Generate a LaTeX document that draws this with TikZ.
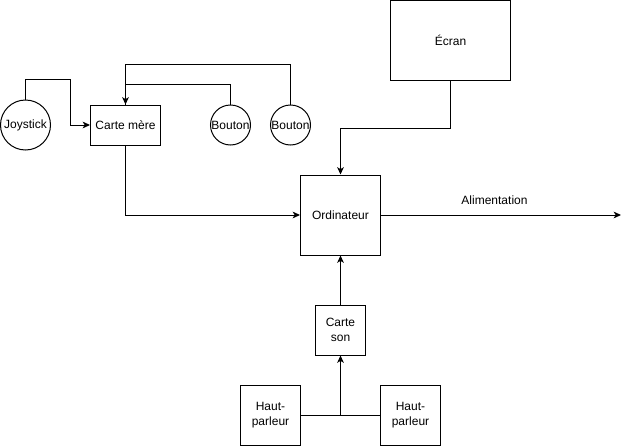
\documentclass[tikz,border=0pt]{standalone}
\usepackage{fontspec}
\setmainfont{Liberation Sans}
\usetikzlibrary{arrows.meta}
\begin{document}
\begin{tikzpicture}[x=0.75pt,y=-0.75pt,
  every node/.style={font=\fontsize{9pt}{11pt}\selectfont, inner sep=0pt, align=center},
  box/.style={draw, line width=0.75pt, rectangle},
  round/.style={draw, line width=0.75pt, circle},
  wire/.style={line width=0.75pt},
  arr/.style={wire, -{Stealth[length=5.5pt,width=5pt,inset=1.5pt]}}]
\useasboundingbox (0,0) rectangle (629,446);

% components
\node[round, minimum size=37.5pt] (joy) at (25.5,125) {Joystick};
\node[box, minimum width=52.5pt, minimum height=30pt] (cm) at (125.5,125) {Carte mère};
\node[round, minimum size=30pt] (b1) at (230.5,125) {Bouton};
\node[round, minimum size=30pt] (b2) at (290.5,125) {Bouton};
\node[box, minimum width=90pt, minimum height=60pt] (ecran) at (450.5,40.5) {Écran};
\node[box, minimum width=60pt, minimum height=60pt] (ord) at (340.5,215) {Ordinateur};
\node[box, minimum width=37.5pt, minimum height=37.5pt] (son) at (340.5,330) {Carte\\son};
\node[box, minimum width=45pt, minimum height=45pt] (hp1) at (270.5,415) {Haut-\\parleur};
\node[box, minimum width=45pt, minimum height=45pt] (hp2) at (410.5,415) {Haut-\\parleur};
\coordinate (alim) at (621,215);
\node (alimlabel) at (494.5,200) {Alimentation};

% connectors
\draw[arr] (joy.north) -- ++(0,-20) -| ([xshift=-15pt]cm.west) -- (cm.west);
\draw[arr] (b2.north) -- ++(0,-40) -| (cm.north);
\draw[wire] (b1.north) -- ++(0,-20) -| (cm.north);
\draw[arr] (cm.south) |- (ord.west);
\draw[arr] (ecran.south) -- ++(0,47.5) -| (ord.north);
\draw[arr] (son.north) -- (ord.south);
\draw[wire] (hp1.east) -- (hp2.west);
\draw[arr] (hp1.east -| son.south) -- (son.south);
\draw[arr] (ord.east) -- (alim);
\end{tikzpicture}
\end{document}
